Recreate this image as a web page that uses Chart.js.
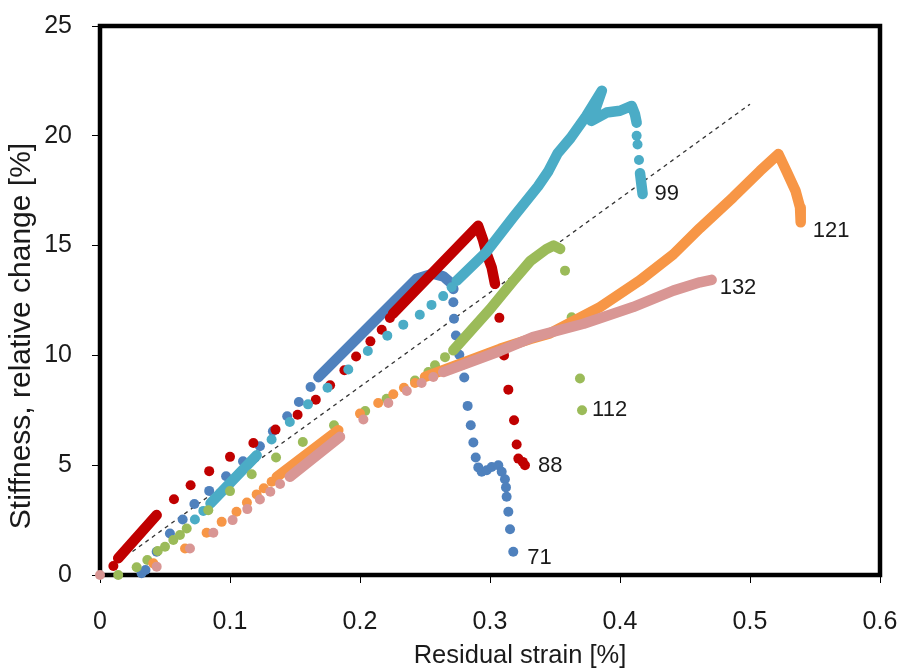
<!DOCTYPE html>
<html>
<head>
<meta charset="utf-8">
<script src="https://cdn.jsdelivr.net/npm/chart.js@4.4.0/dist/chart.umd.min.js"></script>
<style>
  body { margin: 0; background: #fff; }
  #wrap { width: 902px; height: 668px; }
</style>
</head>
<body>
<div id="wrap"><canvas id="myChart" width="902" height="668"></canvas></div>
<script>
var xTicks = [0, 0.1, 0.2, 0.3, 0.4, 0.5, 0.6];
var yTicks = [0, 5, 10, 15, 20, 25];
var xTitle = 'Residual strain [%]';
var yTitle = 'Stiffness, relative change [%]';

// specimen 71
var dots71 = [[0.032,0.08],[0.035,0.23],[0.0436,1.06],[0.0538,1.89],[0.0636,2.53],[0.0726,3.23],[0.084,3.83],
  [0.097,4.5],[0.110,5.18],[0.123,5.86],[0.133,6.55],[0.144,7.23],[0.153,7.88],[0.162,8.56],
  [0.2718,12.42],[0.2723,11.67],[0.2738,10.91],[0.2764,10.03],[0.2782,9.55],[0.2802,8.99],[0.2828,7.70],
  [0.2852,6.82],[0.2872,6.03],[0.289,5.35],[0.291,4.90],[0.2936,4.70],[0.2975,4.77],[0.3013,4.92],
  [0.3064,5.0],[0.309,4.70],[0.3115,4.36],[0.3123,3.99],[0.3128,3.56],[0.3141,2.88],[0.3154,2.08],[0.3179,1.06]];
var lines71 = [[[0.168,9.01],[0.2077,11.36],[0.2436,13.49],[0.256,13.72],[0.264,13.6],[0.27,13.3],[0.2718,13.03]]];

// specimen 88
var dots88 = [[0.0103,0.41],[0.0569,3.45],[0.0697,4.09],[0.084,4.73],[0.1,5.38],[0.118,6.01],[0.135,6.62],
  [0.152,7.30],[0.166,7.98],[0.177,8.64],[0.188,9.32],[0.197,9.95],[0.208,10.64],[0.2167,11.17],[0.223,11.7],
  [0.3072,11.71],[0.3108,10.0],[0.3141,8.44],[0.3185,7.05],[0.3205,5.94],[0.3218,5.30],[0.3252,5.15],[0.3269,5.0]];
var lines88 = [[[0.014,0.76],[0.0436,2.73]],
  [[0.2254,11.9],[0.2908,15.9],[0.2948,15.23],[0.2975,14.62],[0.3013,14.0],[0.3038,13.26]]];

// specimen 99
var dots99 = [[0.073,2.53],[0.0795,2.92],[0.132,6.17],[0.146,6.97],[0.160,7.77],[0.175,8.53],[0.191,9.36],
  [0.206,10.2],[0.221,10.9],[0.2333,11.4],[0.246,11.85],[0.255,12.3],[0.264,12.7],[0.2705,13.1],
  [0.4128,20.0],[0.4135,19.6],[0.4146,18.9]];
var lines99 = [[[0.085,3.26],[0.1205,5.45]],
  [[0.2744,13.4],[0.297,14.7],[0.318,16.3],[0.337,17.7],[0.345,18.4],[0.352,19.2],[0.362,19.9],[0.374,20.9],
   [0.386,22.05],[0.378,20.68],[0.3897,21.06],[0.4,21.14],[0.409,21.36],[0.4115,20.98],[0.4128,20.6]],
  [[0.4154,18.3],[0.4174,17.35]]];

// specimen 112
var dots112 = [[0.014,0],[0.0282,0.35],[0.0364,0.68],[0.0444,1.09],[0.05,1.29],[0.0564,1.59],[0.0615,1.82],
  [0.0667,2.12],[0.0833,2.95],[0.1,3.82],[0.1167,4.59],[0.1354,5.35],[0.156,6.06],[0.18,6.82],[0.204,7.47],
  [0.2205,8.03],[0.2423,8.86],[0.2526,9.24],[0.2577,9.55],[0.2654,9.92],
  [0.3577,13.86],[0.3628,11.74],[0.3692,8.95],[0.3708,7.5]];
var lines112 = [[[0.2718,10.23],[0.3,12.1],[0.318,13.4],[0.331,14.3],[0.3436,14.85],[0.349,15.0],[0.354,14.85]]];

// specimen 121
var dots121 = [[0.041,0.53],[0.0654,1.21],[0.082,1.92],[0.0936,2.42],[0.105,2.88],[0.113,3.3],[0.1205,3.67],
  [0.126,3.95],[0.132,4.25],[0.2,7.35],[0.214,7.83],[0.2256,8.23],[0.2338,8.53],[0.2423,8.74]];
var lines121 = [[[0.136,4.47],[0.1833,6.59]],
  [[0.25,9.02],[0.3077,10.3],[0.331,10.75],[0.346,11.0],[0.3846,12.2],[0.415,13.4],[0.441,14.6],[0.4615,15.8],
   [0.487,17.2],[0.5077,18.4],[0.5218,19.17],[0.528,18.4],[0.535,17.5],[0.5385,16.74],[0.539,16.06]]];

// specimen 132
var dots132 = [[0,0],[0.0436,0.38],[0.0692,1.21],[0.0872,1.92],[0.102,2.5],[0.1133,3.0],[0.123,3.44],
  [0.131,3.79],[0.1385,4.14],[0.2026,7.08],[0.2218,7.83],[0.236,8.38],[0.2474,8.74],[0.2564,9.02]];
var lines132 = [[[0.146,4.47],[0.1846,6.29]],
  [[0.264,9.24],[0.3077,10.2],[0.333,10.83],[0.372,11.44],[0.41,12.2],[0.441,12.95],[0.4615,13.33],[0.4705,13.44]]];

// dashed trend line
var trend = [[0.025,1.07],[0.5,21.44]];

var names = ['71', '88', '99', '112', '121', '132'];
var colors = ['#4F81BD', '#C00000', '#4BACC6', '#9BBB59', '#F79646', '#D99694'];
var allDots = [dots71, dots88, dots99, dots112, dots121, dots132];
var allLines = [lines71, lines88, lines99, lines112, lines121, lines132];
// where each name label sits (last reading of the specimen) and its pixel nudge
var labelAt = [dots71[dots71.length - 1], dots88[dots88.length - 1], lines99[2][1],
  dots112[dots112.length - 1], lines121[1][lines121[1].length - 1], lines132[1][lines132[1].length - 1]];
var labelNudge = [[14, 6], [13, 1], [12, 0], [10, 0], [12, 9], [8, 8]];

var FONT = '"Liberation Sans", Arial, sans-serif';

function pts(a) {
  return a.map(function (p) { return {x: p[0], y: p[1]}; });
}

var datasets = [];
allDots.forEach(function (d, i) {
  datasets.push({
    label: names[i], data: pts(d), backgroundColor: colors[i], borderWidth: 0,
    pointRadius: 5, pointHoverRadius: 5, order: 6 - i, clip: false
  });
  allLines[i].forEach(function (seg) {
    datasets.push({
      label: names[i], data: pts(seg), showLine: true, borderColor: colors[i], borderWidth: 10.5,
      borderCapStyle: 'round', borderJoinStyle: 'round', pointRadius: 0, order: 6 - i, clip: false
    });
  });
});
datasets.push({
  label: 'trend', data: pts(trend), showLine: true, borderColor: '#333', borderWidth: 1.3,
  borderDash: [4, 4], pointRadius: 0, order: 10
});

var frame = {
  id: 'frame',
  beforeDatasetsDraw: function (chart) {
    var a = chart.chartArea, ctx = chart.ctx;
    ctx.save();
    ctx.strokeStyle = '#000';
    ctx.lineWidth = 4.5;
    ctx.strokeRect(a.left, a.top, a.right - a.left, a.bottom - a.top);
    ctx.restore();
  },
  afterDraw: function (chart) {
    var ctx = chart.ctx, xs = chart.scales.x, ys = chart.scales.y;
    ctx.save();
    ctx.fillStyle = '#1a1a1a';
    // specimen names
    ctx.font = '22px ' + FONT;
    ctx.textAlign = 'left';
    ctx.textBaseline = 'middle';
    labelAt.forEach(function (p, i) {
      ctx.fillText(names[i], xs.getPixelForValue(p[0]) + labelNudge[i][0], ys.getPixelForValue(p[1]) + labelNudge[i][1]);
    });
    // axis titles
    ctx.font = '25.5px ' + FONT;
    ctx.textAlign = 'center';
    ctx.textBaseline = 'alphabetic';
    ctx.fillText(xTitle, 520, 663);
    ctx.translate(22, 336);
    ctx.rotate(-Math.PI / 2);
    ctx.font = '30px ' + FONT;
    ctx.textBaseline = 'middle';
    ctx.fillText(yTitle, 0, 0);
    ctx.restore();
  }
};

var ctx = document.getElementById('myChart').getContext('2d');
var myChart = new Chart(ctx, {
  type: 'scatter',
  data: { datasets: datasets },
  options: {
    responsive: false,
    animation: false,
    layout: { padding: { left: 0, top: 26, right: 22, bottom: 0 } },
    plugins: { legend: { display: false }, tooltip: { enabled: false } },
    scales: {
      x: {
        type: 'linear', min: 0, max: 0.6,
        afterBuildTicks: function (s) { s.ticks = xTicks.map(function (v) { return {value: v}; }); },
        afterFit: function (s) { s.height = 93; s.paddingLeft = 0; s.paddingRight = 0; },
        grid: { drawOnChartArea: false, drawTicks: true, tickLength: 8, color: '#000', lineWidth: 1 },
        border: { display: false },
        ticks: {
          padding: 24, color: '#1a1a1a', font: { family: FONT, size: 25 }, maxRotation: 0,
          callback: function (v) { return String(Math.round(v * 10) / 10); }
        }
      },
      y: {
        type: 'linear', min: 0, max: 25,
        afterBuildTicks: function (s) { s.ticks = yTicks.map(function (v) { return {value: v}; }); },
        afterFit: function (s) { s.width = 100; s.paddingTop = 0; s.paddingBottom = 0; },
        grid: { drawOnChartArea: false, drawTicks: true, tickLength: 8, color: '#000', lineWidth: 1 },
        border: { display: false },
        ticks: { padding: 20, color: '#1a1a1a', font: { family: FONT, size: 25 } }
      }
    }
  },
  plugins: [frame]
});
</script>
</body>
</html>
